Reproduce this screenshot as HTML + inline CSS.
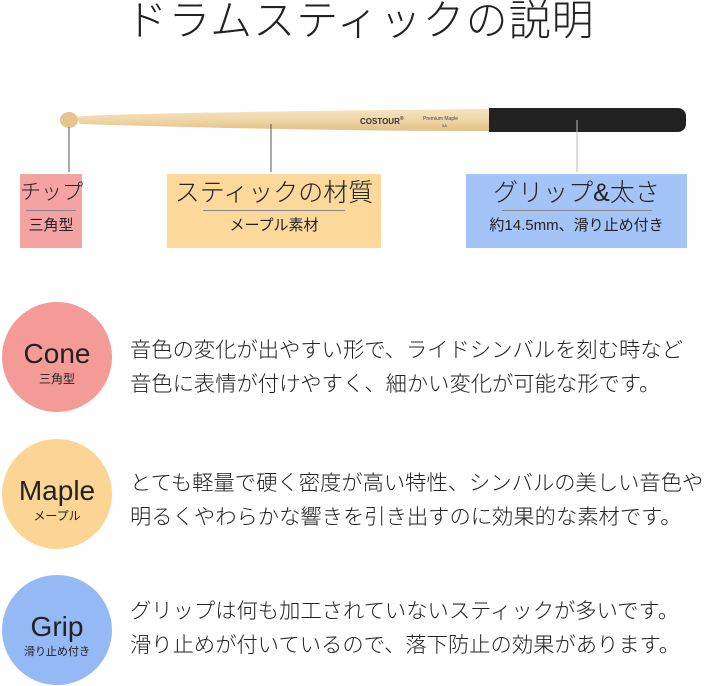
<!DOCTYPE html>
<html><head><meta charset="utf-8"><style>
body{margin:0;width:720px;height:686px;background:#fff;position:relative;overflow:hidden;font-family:"Liberation Sans","Noto Sans CJK JP",sans-serif;color:#222}
.a{position:absolute}
.t{font-weight:300;white-space:nowrap}
.box{position:absolute;top:174px;height:74px;text-align:center;white-space:nowrap}
.box .h{font-size:25px;font-weight:300;margin-top:4px;line-height:30px}
.box .hr{height:1px;background:#888;margin:2px auto 4px}
.box .s{font-size:15px;line-height:22px}
.c{position:absolute;left:2px;width:110px;height:110px;border-radius:50%;text-align:center;white-space:nowrap}
.c .m{font-size:28px;margin-top:36px;line-height:32px}
.c .n{font-size:12px;line-height:18px}
.p{position:absolute;left:130px;font-size:21.3px;line-height:34px;white-space:nowrap;font-weight:300}
</style></head><body>
<div class="a t" style="left:0;width:720px;top:-4px;text-align:center;font-size:42px;line-height:50px;letter-spacing:1px">ドラムスティックの説明</div>
<svg class="a" style="left:0;top:0" width="720" height="260">
<defs><linearGradient id="w" x1="0" y1="0" x2="0" y2="1"><stop offset="0" stop-color="#f6e3c0"/><stop offset="0.5" stop-color="#f0d6a6"/><stop offset="1" stop-color="#e2c08a"/></linearGradient></defs>
<path d="M76 117 Q90 113 490 109 L490 131 Q300 131 80 124 Z" fill="url(#w)"/>
<ellipse cx="69" cy="120" rx="9" ry="8" fill="#e6c58e"/>
<rect x="489" y="108" width="197" height="24" rx="8" fill="#222"/>
<rect x="489" y="108" width="10" height="24" fill="#222"/>
<text x="360" y="124" font-size="8" font-weight="bold" font-family="Liberation Sans" fill="#333">COSTOUR<tspan font-size="5" dy="-4">®</tspan></text>
<text x="423" y="120" font-size="5" font-family="Liberation Sans" fill="#444">Premium Maple</text>
<text x="442" y="127" font-size="4" font-family="Liberation Sans" fill="#444">5A</text>
<line x1="69" y1="127" x2="69" y2="172" stroke="#555" stroke-width="1"/>
<line x1="271" y1="124" x2="271" y2="172" stroke="#555" stroke-width="1"/>
<line x1="577" y1="120" x2="577" y2="172" stroke="#bbb" stroke-width="1"/>
</svg>
<div class="box" style="left:20px;width:62px;background:#f4a2a2"><div class="h" style="font-size:21px">チップ</div><div class="hr" style="width:50px"></div><div class="s">三角型</div></div>
<div class="box" style="left:167px;width:214px;background:#fcd99b"><div class="h">スティックの材質</div><div class="hr" style="width:142px"></div><div class="s">メープル素材</div></div>
<div class="box" style="left:466px;width:221px;background:#a4c3f6"><div class="h">グリップ&amp;太さ</div><div class="hr" style="width:150px"></div><div class="s">約14.5mm、滑り止め付き</div></div>
<div class="c" style="top:302px;background:#f49b97"><div class="m">Cone</div><div class="n">三角型</div></div>
<div class="c" style="top:439px;background:#fcd594"><div class="m">Maple</div><div class="n">メープル</div></div>
<div class="c" style="top:575px;background:#95b9f5"><div class="m">Grip</div><div class="n" style="font-size:11px">滑り止め付き</div></div>
<div class="p" style="top:333px">音色の変化が出やすい形で、ライドシンバルを刻む時など<br>音色に表情が付けやすく、細かい変化が可能な形です。</div>
<div class="p" style="top:466px">とても軽量で硬く密度が高い特性、シンバルの美しい音色や<br>明るくやわらかな響きを引き出すのに効果的な素材です。</div>
<div class="p" style="top:594px">グリップは何も加工されていないスティックが多いです。<br>滑り止めが付いているので、落下防止の効果があります。</div>
</body></html>
